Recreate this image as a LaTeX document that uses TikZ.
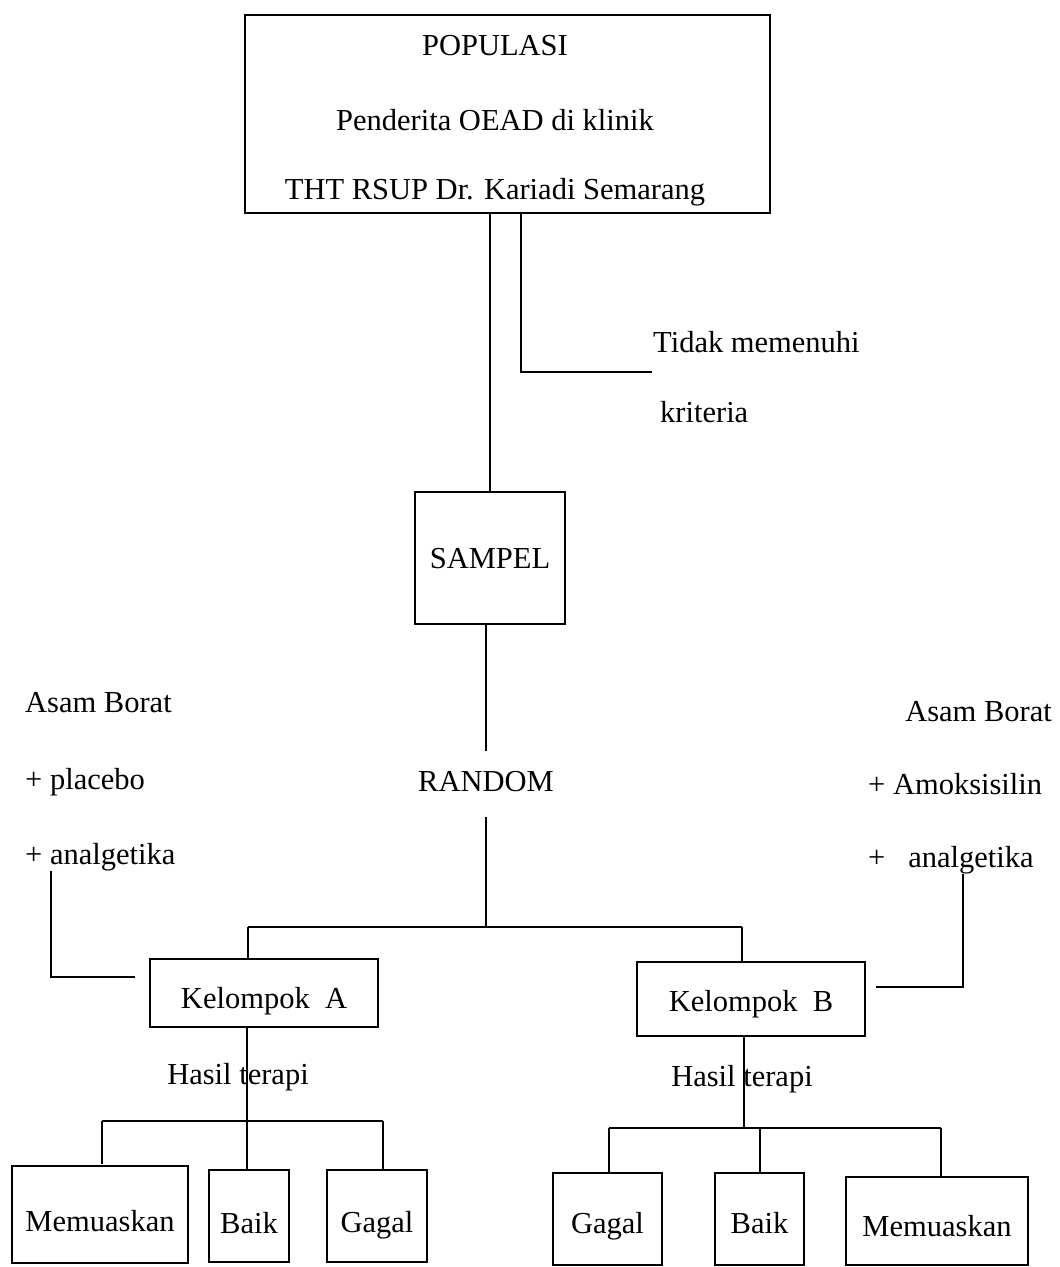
\documentclass[tikz,border=0pt]{standalone}
\usepackage{fontspec}
\setmainfont{LiberationSerif-Regular.ttf}[BoldFont=LiberationSerif-Bold.ttf]
\begin{document}
\begin{tikzpicture}[x=1pt,y=-1pt,
  every node/.style={font=\fontsize{30.5}{72.5}\selectfont, inner sep=0pt,
    text height=21pt, text depth=7pt},
  bx/.style={draw, line width=1.1pt},
  low/.style={text height=#1},
  conn/.style={line width=1.1pt}]
\useasboundingbox (0,0) rectangle (1060,1267);
% top
\node[bx, minimum width=525pt, minimum height=198pt] (pop) at (507.5,114) {};
\node (pt1) at (495,48) {POPULASI};
\node (pt2) at (495,123) {Penderita OEAD di klinik};
\node (pt3) at (495,192) {THT RSUP Dr. Kariadi Semarang};
\node[bx, low=27pt, minimum width=150pt, minimum height=132pt] (sampel) at (490,558) {SAMPEL};
\node[minimum height=66pt] (random) at (486,784) {RANDOM};
\node[anchor=west] (tidak) at (653,345) {Tidak memenuhi};
\node[anchor=west] (krit) at (660,415) {kriteria};
\coordinate (tk) at (521,372);
\coordinate (tkend) at (652,372);
\draw[conn] (pop.south -| sampel.north) -- (sampel.north);
\draw[conn] (pop.south -| tk) -- (tk) -- (tkend);
\draw[conn] (random.north |- sampel.south) -- (random.north);
% groups
\node[bx, low=37pt, minimum width=228pt, minimum height=68pt] (ka) at (264,993) {Kelompok~ A};
\node[bx, low=31pt, minimum width=228pt, minimum height=74pt] (kb) at (751,999) {Kelompok~ B};
\coordinate (jm) at (486,927);
\coordinate (ja) at (248,927);
\coordinate (jb) at (742,927);
\draw[conn] (random.south) -- (jm);
\draw[conn] (ja) -- (jb);
\draw[conn] (ja) -- (ja |- ka.north);
\draw[conn] (jb) -- (jb |- kb.north);
% left treatment
\node[anchor=west] (la1) at (25,705) {Asam Borat};
\node[anchor=west] (la2) at (25,782) {+ placebo};
\node[anchor=west] (la3) at (25,857) {+ analgetika};
\coordinate (lc) at (51,977);
\coordinate (lcend) at (135,977);
\draw[conn] (lc |- la3.south) -- (lc) -- (lcend);
% right treatment
\node[anchor=east] (ra1) at (1052,714) {Asam Borat};
\node[anchor=west] (ra2) at (868,787) {+ Amoksisilin};
\node[anchor=west] (ra3) at (868,860) {+~~ analgetika};
\coordinate (rc) at (963,987);
\coordinate (rcend) at (876,987);
\draw[conn] (rc |- ra3.south) -- (rc) -- (rcend);
% results A
\coordinate (ha) at (247,1121);
\coordinate (ha1) at (102,1121);
\coordinate (ha3) at (383,1121);
\coordinate (ha1e) at (102,1164);
\draw[conn] (ka.south -| ha) -- (ha);
\node (hta) at (238,1077) {Hasil terapi};
\node[bx, low=40pt, minimum width=176pt, minimum height=97pt] (memA) at (100,1214.5) {Memuaskan};
\node[bx, low=41pt, minimum width=80pt, minimum height=92pt] (baikA) at (249,1216) {Baik};
\node[bx, low=39pt, minimum width=100pt, minimum height=92pt] (gagalA) at (377,1216) {Gagal};
\draw[conn] (ha1) -- (ha3);
\draw[conn] (ha1) -- (ha1e);
\draw[conn] (ha) -- (ha |- baikA.north);
\draw[conn] (ha3) -- (ha3 |- gagalA.north);
% results B
\coordinate (hb) at (744,1128);
\coordinate (hb1) at (609,1128);
\coordinate (hb2) at (760,1128);
\coordinate (hb3) at (941,1128);
\draw[conn] (kb.south -| hb) -- (hb);
\node (htb) at (742,1079) {Hasil terapi};
\node[bx, low=35pt, minimum width=109pt, minimum height=92pt] (gagalB) at (607.5,1219) {Gagal};
\node[bx, low=35pt, minimum width=89pt, minimum height=92pt] (baikB) at (759.5,1219) {Baik};
\node[bx, low=37pt, minimum width=182pt, minimum height=88pt] (memB) at (937,1221) {Memuaskan};
\draw[conn] (hb1) -- (hb3);
\draw[conn] (hb1) -- (hb1 |- gagalB.north);
\draw[conn] (hb2) -- (hb2 |- baikB.north);
\draw[conn] (hb3) -- (hb3 |- memB.north);
\end{tikzpicture}
\end{document}
